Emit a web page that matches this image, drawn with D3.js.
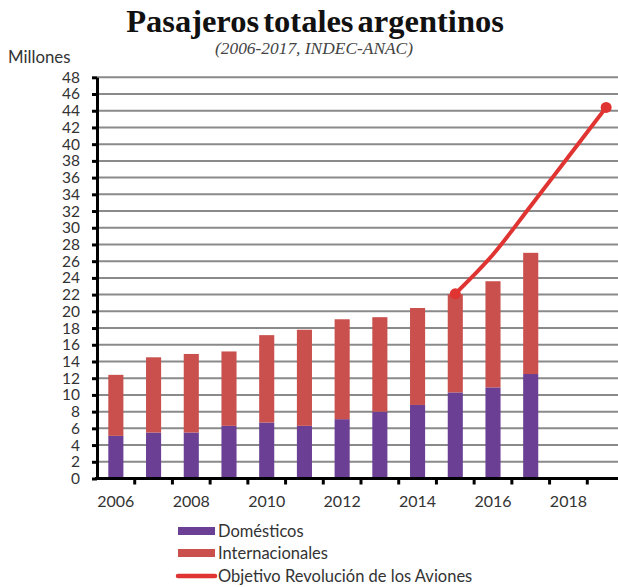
<!DOCTYPE html>
<html>
<head>
	<title>Pasajeros totales argentinos</title>
	<meta charset=utf-8>
	<script src="https://d3js.org/d3.v7.min.js"></script>
	<style type="text/css">
		body{
			margin: 0;
			background: #fff;
		}
		svg text{
			font-family: Lato, "Open Sans", sans-serif;
			fill: #333;
		}
		.title text{
			font-family: "Liberation Serif", "DejaVu Serif", serif;
			fill: #111;
		}
	</style>
</head>
<body>
	<svg id="chart" width="618" height="587"></svg>

	<script type="text/javascript">
		// datos (millones de pasajeros)
		const years = ['2006','2007','2008','2009','2010','2011','2012','2013','2014','2015','2016','2017','2018','2019'];
		const barYears = years.slice(0, 12);
		const domesticos = [5.1, 5.5, 5.5, 6.3, 6.7, 6.3, 7.1, 8.0, 8.8, 10.3, 10.9, 12.5];
		const internacionales = [7.3, 9.0, 9.4, 8.9, 10.45, 11.5, 11.95, 11.3, 11.6, 11.75, 12.7, 14.5];
		const objetivoYears = ['2015','2016','2017','2018','2019'];
		const objetivo = [22.1, 26.8, 32.6, 38.5, 44.4];
		const yTicks = d3.range(0, 49, 2);
		const xLabels = ['2006','2008','2010','2012','2014','2016','2018'];

		const purple = '#6a3f94';
		const red = '#c9504c';
		const lineRed = '#df3431';

		const svg = d3.select('#chart');
		const plotLeft = 97, plotRight = 625, plotTop = 77.3, plotBottom = 478.5;

		const x = d3.scaleBand()
			.domain(years)
			.range([plotLeft, plotRight])
			.paddingInner(0.6)
			.paddingOuter(0.3);

		const y = d3.scaleLinear()
			.domain([0, 48])
			.range([plotBottom, plotTop]);

		// titulos
		const title = svg.append('g').attr('class', 'title');
		title.append('text')
			.attr('x', 315)
			.attr('y', 31.5)
			.attr('text-anchor', 'middle')
			.style('font-size', '32.5px')
			.style('font-weight', 'bold')
			.style('word-spacing', '-4px')
			.text('Pasajeros totales argentinos');
		title.append('text')
			.attr('x', 314)
			.attr('y', 53.5)
			.attr('text-anchor', 'middle')
			.style('font-size', '17.4px')
			.style('font-style', 'italic')
			.style('fill', '#444')
			.text('(2006-2017, INDEC-ANAC)');

		svg.append('text')
			.attr('x', 8)
			.attr('y', 63)
			.style('font-size', '16.8px')
			.text('Millones');

		// grilla
		svg.append('g')
			.selectAll('line')
			.data(yTicks.filter(d => d > 0))
			.enter()
			.append('line')
			.attr('x1', plotLeft)
			.attr('x2', 618)
			.attr('y1', d => y(d))
			.attr('y2', d => y(d))
			.attr('stroke', '#8a8a8a')
			.attr('stroke-width', 2);

		// barras apiladas
		const stackData = barYears.map((yr, i) => ({year: yr, dom: domesticos[i], intl: internacionales[i]}));
		const series = d3.stack().keys(['dom', 'intl'])(stackData);
		const colors = {dom: purple, intl: red};

		svg.append('g')
			.selectAll('g')
			.data(series)
			.enter()
			.append('g')
			.attr('fill', d => colors[d.key])
			.selectAll('rect')
			.data(d => d)
			.enter()
			.append('rect')
			.attr('x', d => x(d.data.year))
			.attr('width', x.bandwidth())
			.attr('y', d => y(d[1]))
			.attr('height', d => y(d[0]) - y(d[1]));

		// eje y
		const yAxis = svg.append('g')
			.attr('transform', `translate(${plotLeft}, 0)`)
			.call(d3.axisLeft(y).tickValues(yTicks).tickSize(5).tickSizeOuter(0).tickPadding(12));
		yAxis.select('.domain').attr('stroke', '#000').attr('stroke-width', 3);
		yAxis.selectAll('.tick line').attr('stroke', '#000').attr('stroke-width', 3);
		yAxis.selectAll('.tick text').style('font-size', '15.5px').style('fill', '#333');

		// eje x
		const step = x.step();
		const xAxis = svg.append('g');
		xAxis.append('line')
			.attr('x1', plotLeft - 2)
			.attr('x2', 618)
			.attr('y1', plotBottom)
			.attr('y2', plotBottom)
			.attr('stroke', '#000')
			.attr('stroke-width', 3);
		xAxis.selectAll('line.tk')
			.data(years.slice(1))
			.enter()
			.append('line')
			.attr('class', 'tk')
			.attr('x1', d => x(d) - (step - x.bandwidth()) / 2)
			.attr('x2', d => x(d) - (step - x.bandwidth()) / 2)
			.attr('y1', plotBottom)
			.attr('y2', plotBottom + 6)
			.attr('stroke', '#000')
			.attr('stroke-width', 3);
		xAxis.selectAll('text')
			.data(xLabels)
			.enter()
			.append('text')
			.attr('x', d => x(d) + x.bandwidth() / 2)
			.attr('y', 506.5)
			.attr('text-anchor', 'middle')
			.style('font-size', '16px')
			.text(d => d);

		// objetivo
		const pts = objetivoYears.map((yr, i) => [x(yr) + x.bandwidth() / 2, y(objetivo[i])]);
		svg.append('path')
			.attr('d', d3.line().curve(d3.curveMonotoneX)(pts))
			.attr('fill', 'none')
			.attr('stroke', lineRed)
			.attr('stroke-width', 4);
		svg.append('g')
			.selectAll('circle')
			.data([pts[0], pts[pts.length - 1]])
			.enter()
			.append('circle')
			.attr('cx', d => d[0])
			.attr('cy', d => d[1])
			.attr('r', 5.5)
			.attr('fill', lineRed);

		// leyenda
		const legend = svg.append('g').attr('transform', 'translate(178, 0)');
		const legendItems = [
			{label: 'Domésticos', color: purple, type: 'rect', cy: 531},
			{label: 'Internacionales', color: red, type: 'rect', cy: 553},
			{label: 'Objetivo Revolución de los Aviones', color: lineRed, type: 'line', cy: 576}
		];
		legendItems.forEach(function(it){
			if(it.type === 'rect'){
				legend.append('rect')
					.attr('x', 0)
					.attr('y', it.cy - 4)
					.attr('width', 37)
					.attr('height', 8)
					.attr('fill', it.color);
			}else{
				legend.append('line')
					.attr('x1', 0)
					.attr('x2', 37)
					.attr('y1', it.cy)
					.attr('y2', it.cy)
					.attr('stroke', it.color)
					.attr('stroke-width', 4.5)
					.attr('stroke-linecap', 'round');
			}
			legend.append('text')
				.attr('x', 40)
				.attr('y', it.cy + 6)
				.style('font-size', '16.5px')
				.text(it.label);
		});
	</script>
</body>
</html>
